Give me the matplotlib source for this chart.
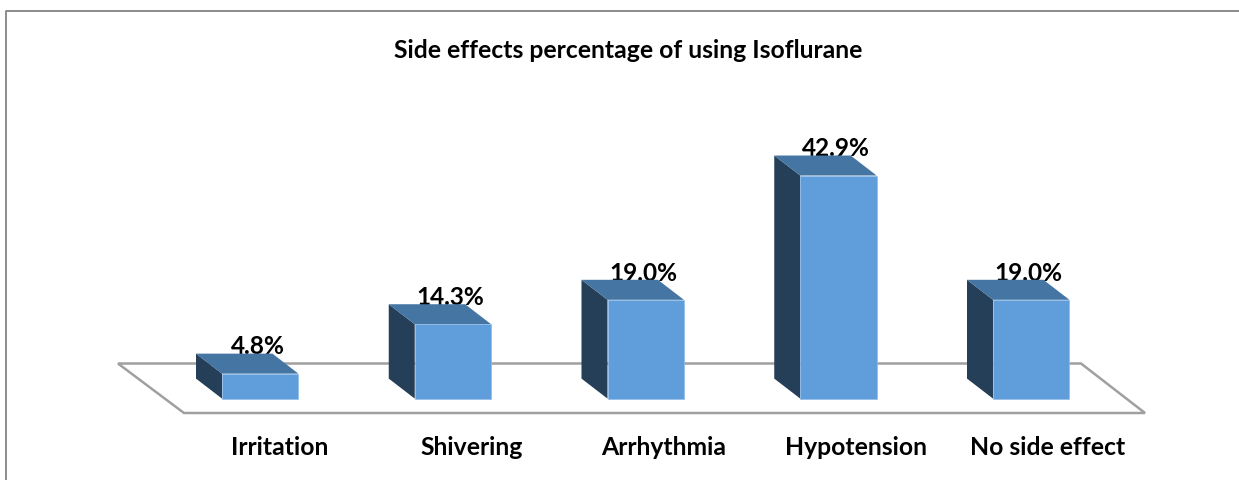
import matplotlib
matplotlib.use('Agg')
import matplotlib.pyplot as plt
from matplotlib.patches import Polygon, Rectangle
from matplotlib.lines import Line2D
import numpy as np

# ------------------------------------------ DATA ------------------------------------------------#
categories = ['Irritation', 'Shivering', 'Arrhythmia', 'Hypotension', 'No side effect']
values = [4.8, 14.3, 19.0, 42.9, 19.0]
title = 'Side effects percentage of using Isoflurane'

# ------------------------------------------ USER VARIABLES --------------------------------------#
plt.rcParams['font.family'] = ['Lato', 'DejaVu Sans']
W, H = 1239, 480
x_px = 192.75      # px per category
y_px = 5.2         # px per percent
x0_px = 260.2      # px of first category centre
y0_px = 398.6      # px of zero line (from top)
bar_w = 76.4 / x_px
dx = 26 / x_px     # depth offset of the 3d bars
dy = 20 / y_px

c_front = '#5f9ddb'
c_top = '#4575a3'
c_side = '#243f57'
c_line = '#a0a0a0'
c_frame = '#8c8c8c'

# ------------------------------------------ PLOT ------------------------------------------------#
fig = plt.figure(figsize=(W / 100, H / 100), dpi=100)
ax = fig.add_axes([0, 0, 1, 1])
ax.set_xlim(-x0_px / x_px, (W - x0_px) / x_px)
ax.set_ylim((y0_px - H) / y_px, y0_px / y_px)
ax.axis('off')


def px(x, y):
    # picture pixels to data coords, only for the floor and frame
    return (x - x0_px) / x_px, (y0_px - y) / y_px


## frame
ax.add_line(Line2D(*zip(px(6.5, H), px(6.5, 10.5), px(W, 10.5)), color=c_frame, lw=1.4, zorder=1))

## floor
floor = Polygon([px(118, 363.5), px(1081, 363.5), px(1145, 413), px(184, 413)], closed=True,
                facecolor='white', edgecolor=c_line, lw=1.8, zorder=2)
ax.add_patch(floor)

## labels sit behind the bars, the tops cut them off
for i, v in enumerate(values):
    ax.text(i - 2.5 / x_px, v + dy - 0.8 / y_px, '{:.1f}%'.format(v), ha='center', va='baseline',
            fontsize=17.6, fontweight='bold', color='black', zorder=3)

## bars
for i, v in enumerate(values):
    l, r = i - bar_w / 2, i + bar_w / 2
    ax.add_patch(Polygon([(l, 0), (l - dx, dy), (l - dx, v + dy), (l, v)], closed=True,
                         facecolor=c_side, edgecolor='none', zorder=4))
    ax.add_patch(Polygon([(l, v), (l - dx, v + dy), (r - dx, v + dy), (r, v)], closed=True,
                         facecolor=c_top, edgecolor='none', zorder=4))
    ax.add_patch(Rectangle((l, 0), bar_w, v, facecolor=c_front, edgecolor='#8fbbe8', lw=0.5, zorder=5))

## category labels, shifted right of the bars as in the original
for i, cat in enumerate(categories):
    ax.text(i + (19.5 - 0.8 * i) / x_px, -49 / y_px, cat, ha='center', va='center',
            fontsize=17.8, fontweight='bold', color='black', zorder=6)

## title
ax.text(*px(628, 51), title, ha='center', va='center', fontsize=17.8, fontweight='bold', color='black')

fig.savefig('out.png', dpi=100)
plt.close()
